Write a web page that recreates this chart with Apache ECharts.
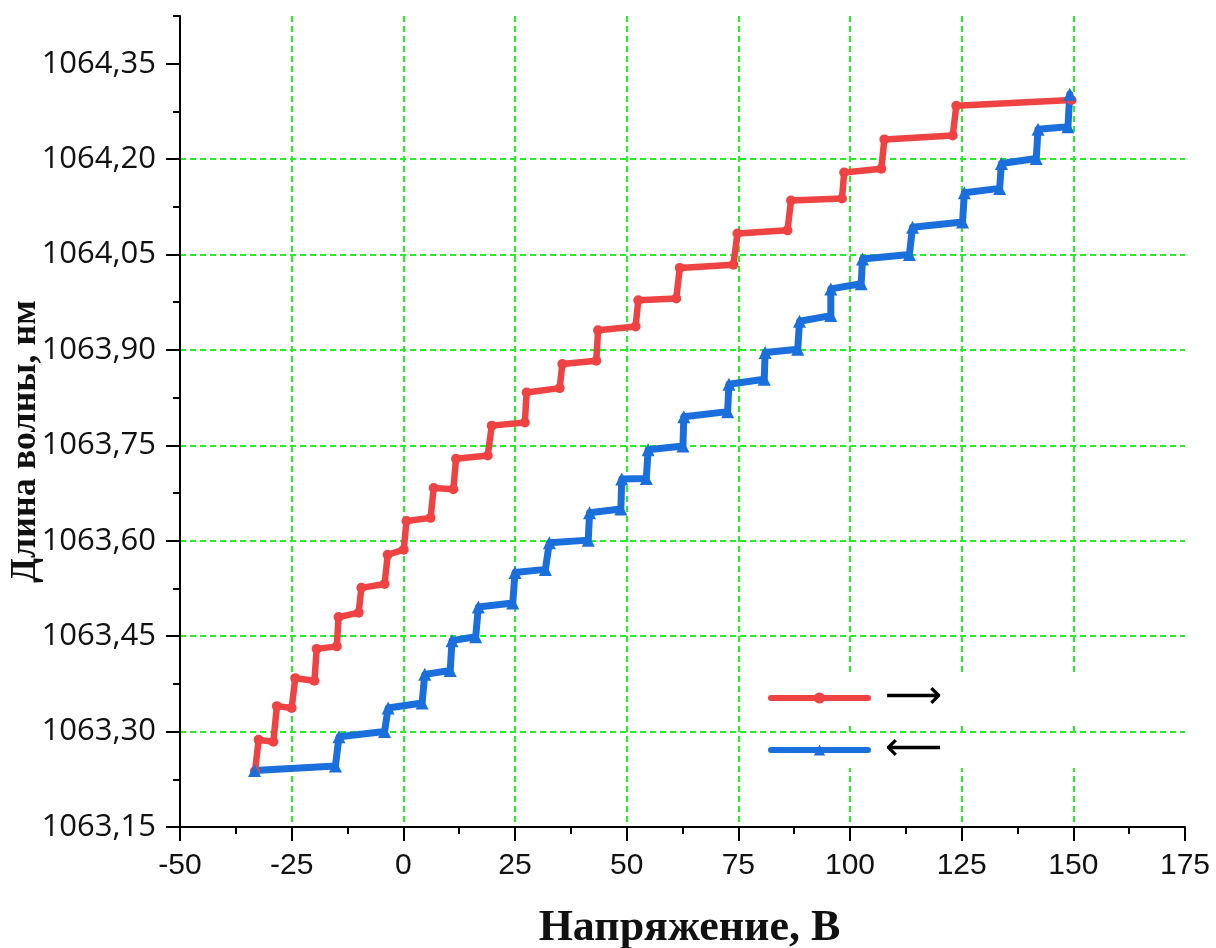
<!DOCTYPE html>
<html>
<head>
<meta charset="utf-8">
<script src="https://cdn.jsdelivr.net/npm/echarts@6/dist/echarts.min.js"></script>
<style>
html,body{margin:0;padding:0;background:#fff;}
#chart{width:1216px;height:948px;}
</style>
</head>
<body>
<div id="chart"></div>
<script>
// Forward sweep (red, →): voltage, V
const redX = [-33.2,-32.4,-29.1,-28.3,-25.0,-24.2,-19.9,-19.4,-14.9,-14.5,-10.0,-9.4,-4.2,-3.5,0.1,0.7,6.1,6.8,11.2,11.8,18.9,19.8,27.2,27.6,35.0,35.6,43.2,43.6,52.0,52.6,61.1,61.9,73.9,74.8,86.0,86.8,98.2,98.7,107.0,107.7,123.0,123.8,149.6];
// Forward sweep (red, →): wavelength, nm
const redY = [1063.238,1063.287,1063.284,1063.340,1063.337,1063.384,1063.380,1063.430,1063.434,1063.480,1063.487,1063.526,1063.532,1063.578,1063.586,1063.631,1063.636,1063.683,1063.681,1063.729,1063.734,1063.781,1063.786,1063.833,1063.840,1063.878,1063.883,1063.931,1063.937,1063.978,1063.981,1064.029,1064.034,1064.083,1064.088,1064.135,1064.138,1064.179,1064.185,1064.231,1064.237,1064.284,1064.293];
// Reverse sweep (blue, ←): voltage, V
const blueX = [-33.3,-15.2,-14.4,-4.2,-3.4,4.2,4.8,10.5,10.9,16.2,16.8,24.5,25.0,31.8,32.7,41.4,41.7,48.7,48.9,54.4,54.8,62.6,62.8,72.6,72.9,80.8,81.0,88.3,88.7,95.7,95.7,102.5,102.8,113.3,114.0,125.2,125.6,133.5,133.9,141.7,142.1,148.8,149.2];
// Reverse sweep (blue, ←): wavelength, nm
const blueY = [1063.239,1063.246,1063.292,1063.300,1063.337,1063.345,1063.390,1063.396,1063.443,1063.449,1063.496,1063.502,1063.550,1063.555,1063.597,1063.601,1063.644,1063.650,1063.697,1063.698,1063.743,1063.749,1063.795,1063.803,1063.846,1063.854,1063.896,1063.901,1063.945,1063.954,1063.996,1064.004,1064.043,1064.050,1064.093,1064.101,1064.147,1064.154,1064.193,1064.201,1064.247,1064.251,1064.302];

const seriesNames = ['⟶', '⟵'];
const xTicks = [-50,-25,0,25,50,75,100,125,150,175];
const yTicks = [1063.15,1063.30,1063.45,1063.60,1063.75,1063.90,1064.05,1064.20,1064.35];
const yMinorTicks = [1063.225,1063.375,1063.525,1063.675,1063.825,1063.975,1064.125,1064.275,1064.425];
const xTitle = 'Напряжение, В';
const yTitle = 'Длина волны, нм';

const redData = redX.map((x, i) => [x, redY[i]]);
const blueData = blueX.map((x, i) => [x, blueY[i]]);

const chart = echarts.init(document.getElementById('chart'), null, {renderer: 'canvas'});
const gridGreen = '#22f022';
const axisBlack = '#000';
const redColor = '#ef4343';
const blueColor = '#1b6fdc';

chart.setOption({
  backgroundColor: '#fff',
  animation: false,
  grid: {left: 180, right: 31, top: 16, bottom: 121, containLabel: false, outerBoundsMode: 'none'},
  graphic: [
    {type: 'rect', z: 1, shape: {x: 745, y: 673, width: 455, height: 53}, style: {fill: '#fff'}},
    {type: 'rect', z: 1, shape: {x: 745, y: 735, width: 455, height: 33}, style: {fill: '#fff'}}
  ],
  legend: {
    orient: 'vertical',
    left: 763,
    top: 673,
    itemWidth: 97,
    itemHeight: 14,
    itemGap: 12,
    data: seriesNames,
    lineStyle: {width: 6},
    textStyle: {fontSize: 40, lineHeight: 40, fontFamily: 'DejaVu Sans', color: '#000', padding: [0, 0, 0, 12]}
  },
  xAxis: {
    type: 'value',
    min: xTicks[0],
    max: xTicks[xTicks.length - 1],
    interval: 25,
    name: xTitle,
    nameLocation: 'middle',
    nameGap: 80,
    nameTextStyle: {fontFamily: 'Liberation Serif', fontWeight: 'bold', fontSize: 44, color: '#111', padding: [0, 0, 0, 14]},
    axisLine: {show: true, onZero: false, lineStyle: {color: axisBlack, width: 2}},
    axisTick: {show: true, length: 14, lineStyle: {color: axisBlack, width: 2}},
    minorTick: {show: true, splitNumber: 2, length: 7, lineStyle: {color: axisBlack, width: 2}},
    axisLabel: {margin: 24, fontFamily: 'Liberation Sans', fontSize: 30, color: '#111', formatter: v => String(v)},
    splitLine: {show: true, showMinLine: false, showMaxLine: false, lineStyle: {color: gridGreen, width: 2, type: [6, 4]}}
  },
  yAxis: [
    {
      type: 'value',
      min: yTicks[0],
      max: yMinorTicks[yMinorTicks.length - 1],
      interval: 0.15,
      name: yTitle,
      nameLocation: 'middle',
      nameGap: 136,
      nameMoveOverlap: false,
      nameRotate: 90,
      nameTextStyle: {fontFamily: 'Liberation Serif', fontWeight: 'bold', fontSize: 36, color: '#111', padding: [0, 40, 0, 0]},
      axisLine: {show: true, onZero: false, lineStyle: {color: axisBlack, width: 2}},
      axisTick: {show: true, length: 14, customValues: yTicks, lineStyle: {color: axisBlack, width: 2}},
      axisLabel: {margin: 24, customValues: yTicks, fontFamily: 'Open Sans', fontSize: 31, color: '#111',
        formatter: v => v.toFixed(2).replace('.', ',')},
      splitLine: {show: true, showMinLine: false, showMaxLine: false, lineStyle: {color: gridGreen, width: 2, type: [6, 4]}}
    },
    {
      type: 'value',
      position: 'left',
      min: yTicks[0],
      max: yMinorTicks[yMinorTicks.length - 1],
      axisLine: {show: false, onZero: false},
      axisTick: {show: true, length: 7, customValues: yMinorTicks, lineStyle: {color: axisBlack, width: 2}},
      axisLabel: {show: false},
      splitLine: {show: false}
    }
  ],
  series: [
    {
      name: seriesNames[0],
      type: 'line',
      data: redData,
      yAxisIndex: 0,
      z: 3,
      symbol: 'circle',
      symbolSize: 10,
      showAllSymbol: true,
      color: redColor,
      lineStyle: {width: 6.5, color: redColor, join: 'round', cap: 'round'},
      itemStyle: {color: redColor}
    },
    {
      name: seriesNames[1],
      type: 'line',
      data: blueData,
      yAxisIndex: 0,
      z: 3,
      symbol: 'triangle',
      symbolSize: 13,
      showAllSymbol: true,
      color: blueColor,
      lineStyle: {width: 7, color: blueColor, join: 'round', cap: 'round'},
      itemStyle: {color: blueColor}
    }
  ]
});
</script>
</body>
</html>
